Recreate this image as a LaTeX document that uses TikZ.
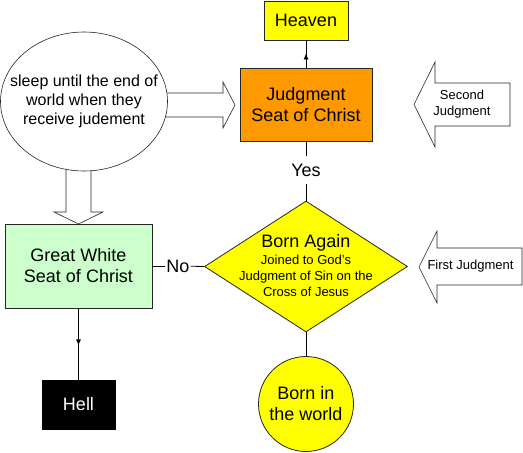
\documentclass[tikz,border=0pt]{standalone}
\usepackage{fontspec}
\setmainfont{Liberation Sans}
\usetikzlibrary{shapes.geometric, arrows.meta, positioning, decorations.markings}

\definecolor{heavenyellow}{HTML}{FFFF00}
\definecolor{seatorange}{HTML}{FF9900}
\definecolor{seatgreen}{HTML}{CCFFCC}

\begin{document}
\begin{tikzpicture}[
    x=1pt, y=-1pt,
    big/.style={font=\fontsize{18}{21}\selectfont},
    small/.style={font=\fontsize{13}{16}\selectfont},
    block/.style={rectangle, draw=black!85, line width=0.8pt, align=center, inner sep=0pt, big},
    label/.style={big, inner xsep=1pt, inner ysep=8pt},
    line/.style={draw=black, line width=0.8pt},
    midarrow/.style={line, postaction={decorate}, decoration={markings, mark=at position 0.52 with {\arrow{Latex[length=6pt,width=5pt]}}}},
    fatarrow/.style={draw=black!85, line width=0.6pt, fill=white, line join=miter}
]
\useasboundingbox (0,0) rectangle (523,453);

% fat arrows leaving the sleep bubble
\draw[fatarrow] (150,93) -- (223,93) -- (223,82) -- (235,105) -- (223,128) -- (223,117) -- (150,117) -- cycle;
\draw[fatarrow] (66,150) -- (66,212) -- (54,212) -- (78.5,224) -- (103,212) -- (91,212) -- (91,150) -- cycle;

\node[ellipse, draw=black!85, line width=0.6pt, fill=white, minimum width=167, minimum height=139, inner sep=0pt] (sleep) at (84,101.5) {};
\node[font=\fontsize{16}{19}\selectfont, align=center] (sleeptext) at (sleep.center) {sleep until the end of\\world when they\\receive judement};

% main nodes
\node[block, fill=heavenyellow, minimum width=84, minimum height=39] (heaven) at (306,20.5) {Heaven};
\node[block, fill=seatorange, minimum width=132, minimum height=73] (judgment) at (306,104.5) {Judgment\\Seat of Christ};
\node[diamond, draw=black!85, line width=0.8pt, fill=heavenyellow, minimum width=203, minimum height=131, inner sep=0pt] (again) at (306,266.5) {};
\node[align=center, small] (againtext) at (306,266) {{\fontsize{18}{21}\selectfont Born Again}\\[1pt]Joined to God's\\Judgment of Sin on the\\Cross of Jesus};
\node[circle, draw=black!85, line width=0.8pt, fill=heavenyellow, minimum size=95, inner sep=0pt, big, align=center] (world) at (306,404) {Born in\\the world};
\node[block, fill=seatgreen, minimum width=147, minimum height=84] (white) at (78.5,266) {Great White\\Seat of Christ};
\node[block, fill=black, text=white, draw=black, minimum width=73, minimum height=49] (hell) at (78.5,404.5) {Hell};

\node[label] (yes) at (306,170) {Yes};
\node[label] (no) at (178,266) {No};

% connectors
\draw[midarrow] (judgment.north) -- (heaven.south);
\draw[line] (judgment) -- (yes);
\draw[line] (yes) -- (again.north);
\draw[line] (white) -- (no);
\draw[line] (no) -- (again.west);
\draw[midarrow] (white.south) -- (hell.north);
\draw[line] (again.south) -- (world.north);

% judgment arrows on the right
\draw[fatarrow] (510,83) -- (435,83) -- (435,62) -- (414,104.5) -- (435,147) -- (435,126) -- (510,126) -- cycle;
\node[small, align=center] (second) at (462,104) {Second\\Judgment};
\draw[fatarrow] (522,248) -- (437,248) -- (437,231) -- (419,267) -- (437,303) -- (437,285) -- (522,285) -- cycle;
\node[small] (first) at (470.5,266) {First Judgment};

\end{tikzpicture}
\end{document}
